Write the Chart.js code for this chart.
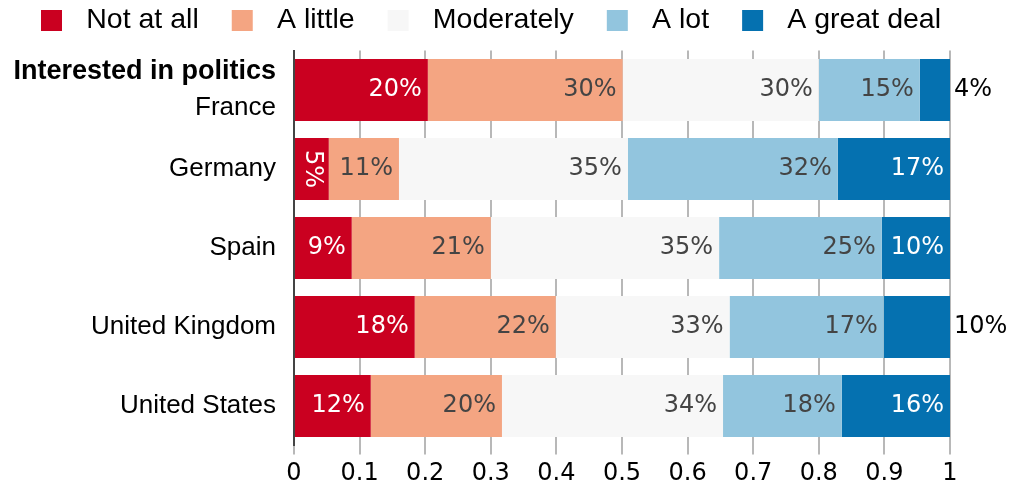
<!DOCTYPE html>
<html><head><meta charset="utf-8">
<script src="https://cdn.jsdelivr.net/npm/chart.js@4/dist/chart.umd.min.js"></script>
<style>html,body{margin:0;padding:0;background:#fff;}#wrap{width:1015px;height:489px;}</style>
</head><body><div id="wrap"><canvas id="c" width="1015" height="489"></canvas></div>
<script>
// ---- data ----
const categories = ['France', 'Germany', 'Spain', 'United Kingdom', 'United States'];
const groupTitle = 'Interested in politics';
const seriesNames = ['Not at all', 'A little', 'Moderately', 'A lot', 'A great deal'];
const notAtAll   = [0.204, 0.053, 0.088, 0.184, 0.117];
const aLittle    = [0.297, 0.107, 0.212, 0.215, 0.200];
const moderately = [0.299, 0.349, 0.348, 0.265, 0.337];
const aLot       = [0.154, 0.320, 0.248, 0.235, 0.181];
const aGreatDeal = [0.046, 0.171, 0.104, 0.101, 0.165];
// printed percentage labels (as shown on the chart)
const lblNotAtAll   = ['20%', '5%', '9%', '18%', '12%'];
const lblALittle    = ['30%', '11%', '21%', '22%', '20%'];
const lblModerately = ['30%', '35%', '35%', '33%', '34%'];
const lblALot       = ['15%', '32%', '25%', '17%', '18%'];
const lblAGreatDeal = ['4%', '17%', '10%', '10%', '16%'];
const xTickValues = [0, 0.1, 0.2, 0.3, 0.4, 0.5, 0.6, 0.7, 0.8, 0.9, 1];
const xTickLabels = ['0', '0.1', '0.2', '0.3', '0.4', '0.5', '0.6', '0.7', '0.8', '0.9', '1'];

// ---- styles ----
const colors = ['#ca0020', '#f4a582', '#f7f7f7', '#92c5de', '#0571b0'];
const insideTextColors = ['#ffffff', '#444444', '#444444', '#444444', '#ffffff'];
const seriesValues = [notAtAll, aLittle, moderately, aLot, aGreatDeal];
const seriesLabels = [lblNotAtAll, lblALittle, lblModerately, lblALot, lblAGreatDeal];
const outsideKeys = ['4-0', '4-3'];
const rotatedKeys = ['0-1'];

function makeSwatch(color) {
  const cv = document.createElement('canvas');
  cv.width = 58; cv.height = 21;
  const c = cv.getContext('2d');
  c.fillStyle = color;
  c.fillRect(27, 0, 21, 21);
  return cv;
}

const LEGEND_H = 50.5;
const legendFix = {
  id: 'legendFix',
  beforeLayout(chart) {
    const lg = chart.legend;
    if (lg && !lg._patched) {
      const f = lg.fit;
      lg.fit = function () {
        const mw = this.maxWidth;
        this.maxWidth = 5000;
        f.call(this);
        this.maxWidth = mw;
        this.width = mw;
        this.height = LEGEND_H;
      };
      lg._patched = true;
    }
  }
};

const valueLabels = {
  id: 'valueLabels',
  afterDatasetsDraw(chart) {
    const ctx = chart.ctx;
    ctx.save();
    ctx.font = '24px "DejaVu Sans"';
    ctx.textBaseline = 'middle';
    chart.data.datasets.forEach((ds, di) => {
      const meta = chart.getDatasetMeta(di);
      meta.data.forEach((bar, i) => {
        const p = bar.getProps(['x', 'y', 'base'], true);
        const txt = seriesLabels[di][i];
        const key = di + '-' + i;
        if (outsideKeys.includes(key)) {
          ctx.fillStyle = '#000000';
          ctx.textAlign = 'left';
          ctx.fillText(txt, p.x + 4, p.y);
        } else if (rotatedKeys.includes(key)) {
          ctx.save();
          ctx.translate((p.x + p.base) / 2, p.y);
          ctx.rotate(Math.PI / 2);
          ctx.fillStyle = insideTextColors[di];
          ctx.textAlign = 'center';
          ctx.fillText(txt, 0, 0);
          ctx.restore();
        } else {
          ctx.fillStyle = insideTextColors[di];
          ctx.textAlign = 'right';
          ctx.fillText(txt, p.x - 6, p.y);
        }
      });
    });
    ctx.restore();
  },
  afterDraw(chart) {
    const ctx = chart.ctx;
    const ys = chart.scales.y;
    const yc = ys.getPixelForValue(0);
    ctx.save();
    ctx.font = 'bold 27px "Liberation Sans"';
    ctx.fillStyle = '#000';
    ctx.textAlign = 'right';
    ctx.textBaseline = 'middle';
    ctx.fillText(groupTitle, ys.right - 18, yc - 18);
    ctx.restore();
  }
};

new Chart(document.getElementById('c'), {
  type: 'bar',
  data: {
    labels: categories,
    datasets: seriesNames.map((n, i) => ({
      label: n,
      data: seriesValues[i],
      backgroundColor: colors[i],
      borderWidth: 0,
      barPercentage: 0.785,
      categoryPercentage: 1
    }))
  },
  options: {
    indexAxis: 'y',
    responsive: false,
    animation: false,
    layout: { padding: { left: 8, right: 65, top: 0, bottom: 0 } },
    plugins: {
      tooltip: { enabled: false },
      legend: {
        position: 'top',
        align: 'start',
        labels: {
          usePointStyle: true,
          pointStyleWidth: 58,
          boxHeight: 21,
          padding: 6,
          color: '#000',
          font: { family: '"Liberation Sans"', size: 28.5 },
          generateLabels(chart) {
            return chart.data.datasets.map((ds, i) => ({
              text: ds.label,
              pointStyle: makeSwatch(ds.backgroundColor),
              fillStyle: ds.backgroundColor,
              strokeStyle: 'rgba(0,0,0,0)',
              lineWidth: 0,
              hidden: false,
              datasetIndex: i
            }));
          }
        }
      }
    },
    scales: {
      x: {
        type: 'linear',
        stacked: true,
        min: 0,
        max: 1,
        afterBuildTicks(s) { s.ticks = xTickValues.map(v => ({ value: v })); },
        ticks: {
          font: { family: '"DejaVu Sans"', size: 24 },
          color: '#000',
          padding: 5,
          maxRotation: 0,
          autoSkip: false,
          callback(v, i) { return xTickLabels[i]; }
        },
        grid: { color: '#b8b8b8', lineWidth: 2, tickLength: 9, drawTicks: true },
        border: { display: false },
        afterFit(s) { s.height = 43.5; }
      },
      y: {
        stacked: true,
        grid: { display: false, drawTicks: false },
        border: { display: true, color: '#444444', width: 2 },
        ticks: {
          font: { family: '"Liberation Sans"', size: 26, lineHeight: '36px' },
          color: '#000',
          padding: 18,
          autoSkip: false,
          callback(v, i) { return i === 0 ? ['', categories[0]] : categories[i]; }
        },
        afterFit(s) { s.width = 286; s.paddingTop = 0; s.paddingBottom = 0; }
      }
    }
  },
  plugins: [legendFix, valueLabels]
});
</script>
</body></html>
